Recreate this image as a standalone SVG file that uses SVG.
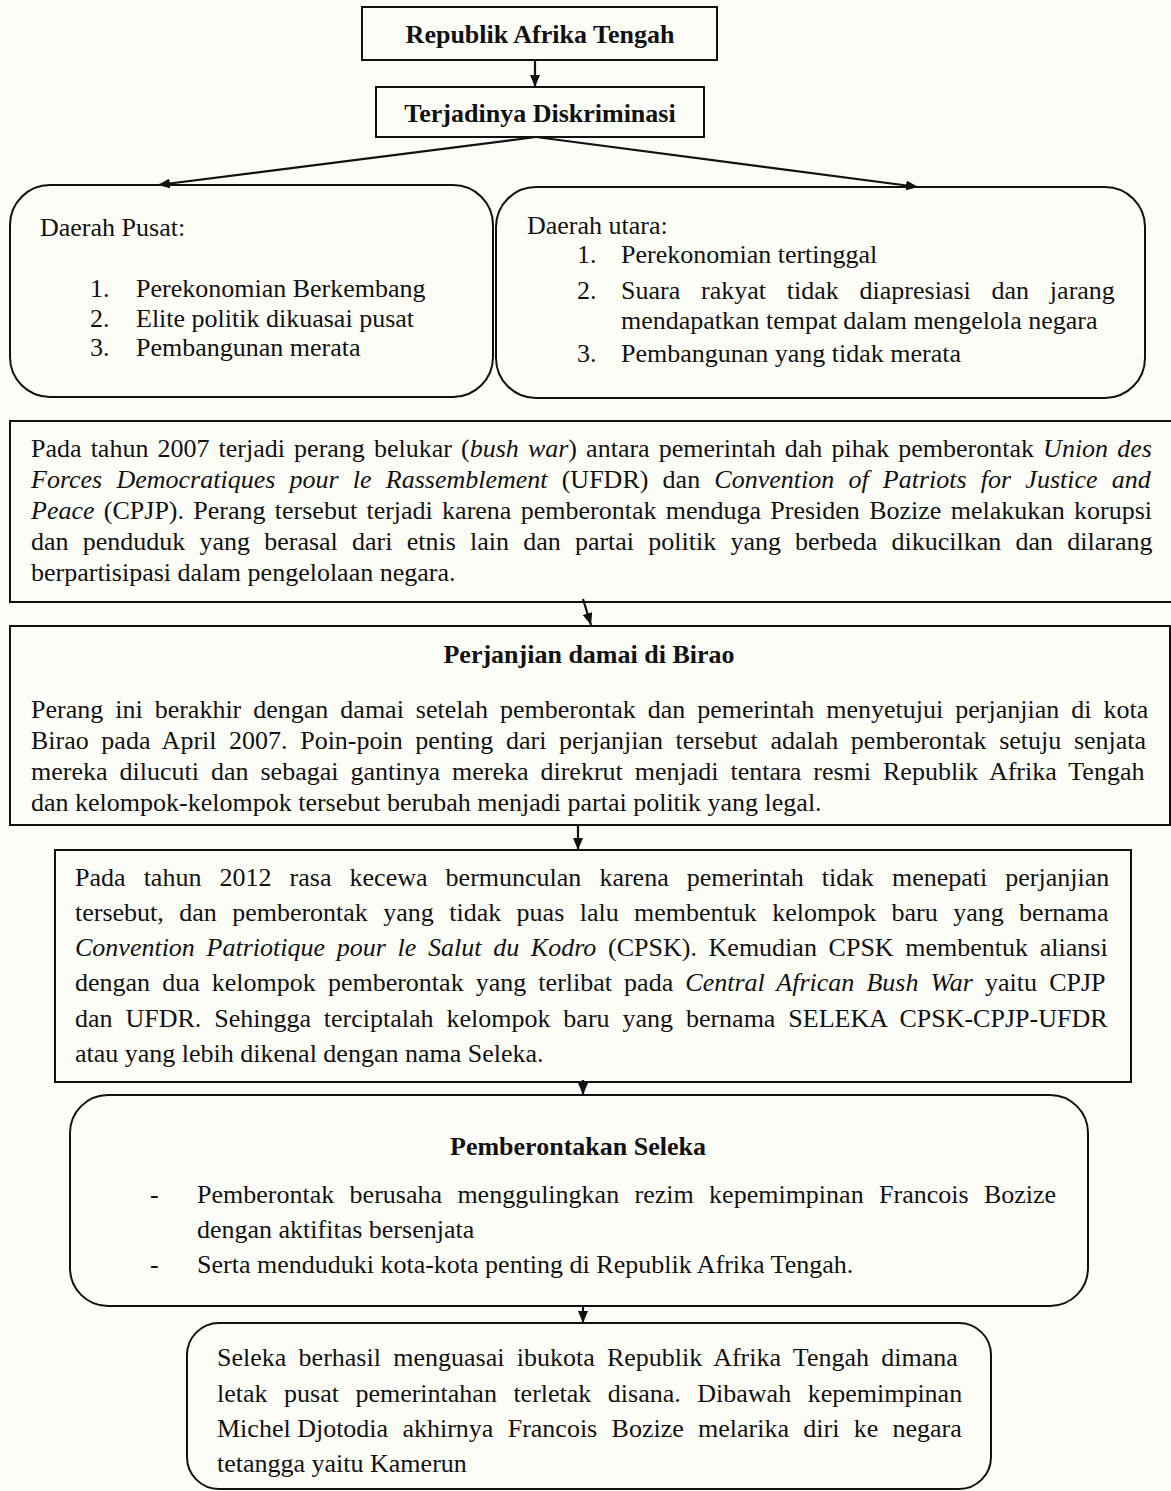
<svg xmlns="http://www.w3.org/2000/svg" width="1171" height="1491" viewBox="0 0 1171 1491">
<defs>
<style>
.t{font-family:"Liberation Serif","Times New Roman",serif;font-size:26px;fill:#111;}
.b{font-weight:bold;}
.i{font-style:italic;}
.m{text-anchor:middle;}
.box{fill:none;stroke:#111;stroke-width:2;}
.conn{fill:none;stroke:#111;stroke-width:2.2;}
</style>
<marker id="ah" viewBox="0 0 12 10" markerWidth="12" markerHeight="10" refX="12" refY="5" orient="auto" markerUnits="userSpaceOnUse">
<path d="M0,0 L12,5 L0,10 z" fill="#111"/>
</marker>
</defs>
<rect x="0" y="0" width="1171" height="1491" fill="#fdfdf8"/>

<g id="connectors">
<line class="conn" x1="535" y1="60" x2="535" y2="87" marker-end="url(#ah)"/>
<line class="conn" x1="536" y1="137" x2="158" y2="185" marker-end="url(#ah)"/>
<line class="conn" x1="536" y1="137" x2="918" y2="187" marker-end="url(#ah)"/>
<line class="conn" x1="583" y1="599" x2="591" y2="625" marker-end="url(#ah)"/>
<line class="conn" x1="578" y1="825" x2="578" y2="850" marker-end="url(#ah)"/>
<line class="conn" x1="583" y1="1080" x2="583" y2="1095" marker-end="url(#ah)"/>
<line class="conn" x1="583" y1="1306" x2="583" y2="1323" marker-end="url(#ah)"/>
</g>

<g id="n-republik">
<rect class="box" x="362" y="7" width="355" height="53"/>
<text class="t b m" x="540" y="43">Republik Afrika Tengah</text>
</g>

<g id="n-diskriminasi">
<rect class="box" x="376" y="87" width="328" height="50"/>
<text class="t b m" x="540" y="122">Terjadinya Diskriminasi</text>
</g>

<g id="n-pusat">
<rect class="box" x="10" y="185" width="483" height="212" rx="40" ry="40"/>
<text class="t" x="40" y="236">Daerah Pusat:</text>
<text class="t" x="90" y="297">1.</text><text class="t" x="136" y="297">Perekonomian Berkembang</text>
<text class="t" x="90" y="327">2.</text><text class="t" x="136" y="327">Elite politik dikuasai pusat</text>
<text class="t" x="90" y="356">3.</text><text class="t" x="136" y="356">Pembangunan merata</text>
</g>

<g id="n-utara">
<rect class="box" x="496" y="187" width="649" height="211" rx="40" ry="40"/>
<text class="t" x="527" y="234">Daerah utara:</text>
<text class="t" x="577" y="263">1.</text><text class="t" x="621" y="263">Perekonomian tertinggal</text>
<text class="t" x="577" y="299">2.</text><text class="t" x="621" y="299" style="word-spacing:14.3px">Suara rakyat tidak diapresiasi dan jarang</text>
<text class="t" x="621" y="329">mendapatkan tempat dalam mengelola negara</text>
<text class="t" x="577" y="362">3.</text><text class="t" x="621" y="362">Pembangunan yang tidak merata</text>
</g>

<g id="n-2007">
<rect class="box" x="10" y="421" width="1170" height="181"/>
<text class="t" x="31" y="457" style="word-spacing:2.6px">Pada tahun 2007 terjadi perang belukar (<tspan class="i">bush war</tspan>) antara pemerintah dah pihak pemberontak <tspan class="i">Union des</tspan></text>
<text class="t" x="31" y="488" style="word-spacing:7.7px"><tspan class="i">Forces Democratiques pour le Rassemblement</tspan> (UFDR) dan <tspan class="i">Convention of Patriots for Justice and</tspan></text>
<text class="t" x="31" y="519" style="word-spacing:2.8px"><tspan class="i">Peace</tspan> (CPJP). Perang tersebut terjadi karena pemberontak menduga Presiden Bozize melakukan korupsi</text>
<text class="t" x="31" y="550" style="word-spacing:7.7px">dan penduduk yang berasal dari etnis lain dan partai politik yang berbeda dikucilkan dan dilarang</text>
<text class="t" x="31" y="581">berpartisipasi dalam pengelolaan negara.</text>
</g>

<g id="n-birao">
<rect class="box" x="10" y="626" width="1160" height="199"/>
<text class="t b m" x="589" y="663">Perjanjian damai di Birao</text>
<text class="t" x="31" y="718" style="word-spacing:5.5px">Perang ini berakhir dengan damai setelah pemberontak dan pemerintah menyetujui perjanjian di kota</text>
<text class="t" x="31" y="749" style="word-spacing:6.1px">Birao pada April 2007. Poin-poin penting dari perjanjian tersebut adalah pemberontak setuju senjata</text>
<text class="t" x="31" y="780" style="word-spacing:5.5px">mereka dilucuti dan sebagai gantinya mereka direkrut menjadi tentara resmi Republik Afrika Tengah</text>
<text class="t" x="31" y="811">dan kelompok-kelompok tersebut berubah menjadi partai politik yang legal.</text>
</g>

<g id="n-2012">
<rect class="box" x="55" y="850" width="1076" height="232"/>
<text class="t" x="75" y="886" style="word-spacing:11.6px">Pada tahun 2012 rasa kecewa bermunculan karena pemerintah tidak menepati perjanjian</text>
<text class="t" x="75" y="921" style="word-spacing:8.9px">tersebut, dan pemberontak yang tidak puas lalu membentuk kelompok baru yang bernama</text>
<text class="t" x="75" y="956" style="word-spacing:5.2px"><tspan class="i">Convention Patriotique pour le Salut du Kodro</tspan> (CPSK). Kemudian CPSK membentuk aliansi</text>
<text class="t" x="75" y="991" style="word-spacing:5.6px">dengan dua kelompok pemberontak yang terlibat pada <tspan class="i">Central African Bush War</tspan> yaitu CPJP</text>
<text class="t" x="75" y="1027" style="word-spacing:6.4px">dan UFDR. Sehingga terciptalah kelompok baru yang bernama SELEKA CPSK-CPJP-UFDR</text>
<text class="t" x="75" y="1062">atau yang lebih dikenal dengan nama Seleka.</text>
</g>

<g id="n-seleka">
<rect class="box" x="70" y="1095" width="1018" height="211" rx="38" ry="38"/>
<text class="t b m" x="578" y="1155">Pemberontakan Seleka</text>
<text class="t" x="150" y="1203">-</text>
<text class="t" x="197" y="1203" style="word-spacing:8.9px">Pemberontak berusaha menggulingkan rezim kepemimpinan Francois Bozize</text>
<text class="t" x="197" y="1238">dengan aktifitas bersenjata</text>
<text class="t" x="150" y="1273">-</text>
<text class="t" x="197" y="1273">Serta menduduki kota-kota penting di Republik Afrika Tengah.</text>
</g>

<g id="n-kamerun">
<rect class="box" x="187" y="1323" width="804" height="166" rx="32" ry="32"/>
<text class="t" x="217" y="1366" style="word-spacing:5.8px">Seleka berhasil menguasai ibukota Republik Afrika Tengah dimana</text>
<text class="t" x="217" y="1402" style="word-spacing:10px">letak pusat pemerintahan terletak disana. Dibawah kepemimpinan</text>
<text class="t" x="217" y="1437" style="word-spacing:7.8px"><tspan style="word-spacing:0px">Michel Djotodia</tspan> akhirnya Francois Bozize melarika diri ke negara</text>
<text class="t" x="217" y="1472">tetangga yaitu Kamerun</text>
</g>
</svg>
